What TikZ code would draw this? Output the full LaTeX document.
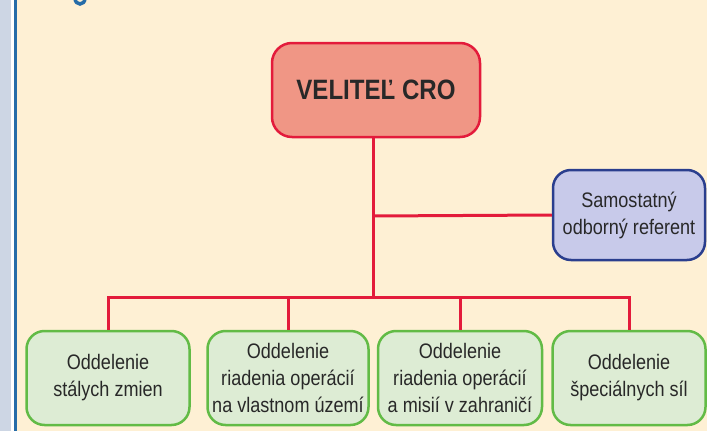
\documentclass[tikz,border=0pt]{standalone}
\usepackage{fontspec}
\setmainfont{Liberation Sans}[FakeStretch=0.86]
\usepackage{tikz}
\usetikzlibrary{arrows.meta}

\definecolor{paper}{RGB}{254,240,212}
\definecolor{linered}{RGB}{227,27,59}
\definecolor{headfill}{RGB}{240,150,133}
\definecolor{reffill}{RGB}{200,202,234}
\definecolor{refdraw}{RGB}{42,62,142}
\definecolor{deptfill}{RGB}{221,236,212}
\definecolor{deptdraw}{RGB}{98,187,70}
\definecolor{inktext}{RGB}{40,40,40}
\definecolor{sidebar}{RGB}{205,214,228}
\definecolor{sideline}{RGB}{38,108,168}

\tikzset{
  head/.style={draw=linered, fill=headfill, line width=2.5pt, rounded corners=20pt,
    minimum width=208pt, minimum height=94pt, inner sep=0pt,
    font=\fontsize{28}{30}\selectfont\bfseries, text=inktext},
  referent/.style={draw=refdraw, fill=reffill, line width=2.5pt, rounded corners=18pt,
    minimum width=152pt, minimum height=90pt, inner sep=0pt, align=center,
    font=\fontsize{21}{27}\selectfont, text=inktext},
  dept/.style={draw=deptdraw, fill=deptfill, line width=2.5pt, rounded corners=18pt,
    minimum height=94pt, inner sep=0pt, align=center,
    font=\fontsize{21}{27}\selectfont, text=inktext},
  link/.style={draw=linered, line width=3pt},
}

\begin{document}
\begin{tikzpicture}[x=1pt, y=-1pt]
    \useasboundingbox (0,0) rectangle (707,431);
    \fill[paper] (0,0) rectangle (707,431);
    % screen edge on the left
    \fill[sidebar] (0,0) rectangle (11,431);
    \fill[white] (11,0) rectangle (14,431);
    \fill[sideline] (14,0) rectangle (17,431);
    % bottom of a cut-off heading letter
    \draw[sideline, line width=3.5pt] (75,-2) .. controls (75,6) and (85,6) .. (85,-2);

    \node[head] (velitel) at (376, 90){VELITEĽ CRO};
    \node[referent] (samref) at (629, 215){Samostatný\\odborný referent};
    \node[dept, minimum width=163pt] (stale) at (108, 378){Oddelenie\\stálych zmien};
    \node[dept, minimum width=161pt] (uzemie) at (288, 378){Oddelenie\\riadenia operácií\\na vlastnom území};
    \node[dept, minimum width=164pt] (zahranicie) at (460, 378){Oddelenie\\riadenia operácií\\a misií v zahraničí};
    \node[dept, minimum width=153pt] (specialne) at (629, 378){Oddelenie\\špeciálnych síl};

    \coordinate (bus) at (373, 297);
    \coordinate (branch) at (373, 216);

    \draw[link] (velitel.south -| bus) -- (bus);
    \draw[link] (branch) -- (samref.west);
    \draw[link] (stale.north) |- (bus) -| (specialne.north);
    \draw[link] (uzemie.north) -- (uzemie.north |- bus);
    \draw[link] (zahranicie.north) -- (zahranicie.north |- bus);
  \end{tikzpicture}
\end{document}
